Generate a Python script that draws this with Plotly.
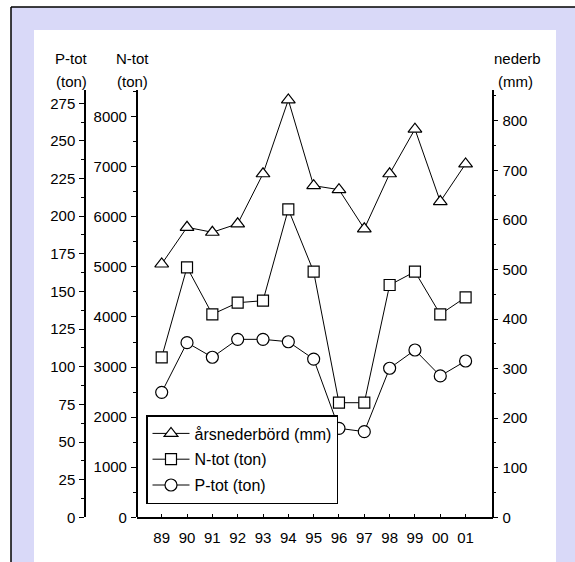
import plotly.graph_objects as go

# ---------------- data ----------------
years = ["89", "90", "91", "92", "93", "94", "95", "96", "97", "98", "99", "00", "01"]
nederb = [511, 585, 575, 592, 693, 842, 669, 661, 582, 693, 783, 637, 713]          # mm
n_tot = [3195, 4992, 4053, 4285, 4325, 6150, 4904, 2288, 2288, 4638, 4904, 4053, 4393]  # ton
p_tot = [83.0, 116.0, 106.3, 118.2, 118.2, 116.6, 105.1, 59.1, 56.9, 99.0, 111.1, 93.9, 103.8]  # ton

series_names = ["årsnederbörd (mm)", "N-tot (ton)", "P-tot (ton)"]

# ---------------- layout helpers ----------------
W, H = 575, 562
def px(x):
    return x / W
def py(y):
    return 1 - y / H

FONT = "Liberation Sans, Arial, sans-serif"
LAV = "#d9d9f8"

x_idx = list(range(len(years)))

fig = go.Figure()

common_line = dict(color="black", width=1)
fig.add_trace(go.Scatter(
    x=x_idx, y=nederb, name=series_names[0], yaxis="y3", mode="lines+markers",
    line=common_line, legendgroup="a",
    marker=dict(symbol="triangle-up", size=12, color="white", line=dict(color="black", width=1.2)),
))
fig.add_trace(go.Scatter(
    x=x_idx, y=n_tot, name=series_names[1], yaxis="y", mode="lines+markers",
    line=common_line, legendgroup="b",
    marker=dict(symbol="square", size=11, color="white", line=dict(color="black", width=1.2)),
))
fig.add_trace(go.Scatter(
    x=x_idx, y=p_tot, name=series_names[2], yaxis="y2", mode="lines+markers",
    line=common_line, legendgroup="c",
    marker=dict(symbol="circle", size=12, color="white", line=dict(color="black", width=1.2)),
))

y_bot, y_top = 517.3, 90
ydom = [py(y_bot), py(y_top)]
tickfont = dict(family=FONT, size=15, color="black")

axis_common = dict(
    showgrid=False, zeroline=False, showline=True, linecolor="black", linewidth=1.5,
    ticks="outside", ticklen=5, tickcolor="black", tickwidth=1, tickfont=tickfont,
    domain=ydom, anchor="free", fixedrange=True, ticklabelstandoff=1, automargin=False,
)

fig.update_layout(
    width=W, height=H, autosize=False,
    margin=dict(l=0, r=0, t=0, b=0, pad=0, autoexpand=False),
    paper_bgcolor="white", plot_bgcolor="rgba(0,0,0,0)",
    font=dict(family=FONT, color="black"),
    xaxis=dict(
        domain=[px(136.7), px(492.7)], range=[-0.987, 13.07],
        tickmode="array", tickvals=x_idx, ticktext=years,
        showgrid=False, zeroline=False, showline=True, linecolor="black", linewidth=1.5,
        ticks="inside", ticklen=4, tickcolor="black", tickfont=tickfont, anchor="y",
        fixedrange=True, ticklabelstandoff=6, automargin=False,
    ),
    yaxis=dict(
        **axis_common, position=px(136.7), side="left", range=[0, 8532],
        tick0=0, dtick=1000,
        minor=dict(ticks="outside", ticklen=3, dtick=500, tickcolor="black", showgrid=False),
    ),
    yaxis2=dict(
        **axis_common, position=px(85), side="left", overlaying="y", range=[0, 283.8],
        tick0=0, dtick=25,
        minor=dict(ticks="outside", ticklen=3, dtick=12.5, tickcolor="black", showgrid=False),
    ),
    yaxis3=dict(
        **axis_common, position=px(492.7), side="right", overlaying="y", range=[0, 862],
        tick0=0, dtick=100,
        minor=dict(ticks="outside", ticklen=3, dtick=50, tickcolor="black", showgrid=False),
    ),
    legend=dict(
        x=px(146), y=py(415), xanchor="left", yanchor="top",
        bgcolor="white", bordercolor="black", borderwidth=1.5,
        font=dict(family=FONT, size=16, color="black"),
        tracegroupgap=2, itemwidth=37,
    ),
    shapes=[
        dict(type="rect", xref="paper", yref="paper", x0=px(11), x1=1.0, y0=0, y1=py(7),
             fillcolor=LAV, line=dict(width=0), layer="below"),
        dict(type="rect", xref="paper", yref="paper", x0=px(34), x1=px(556), y0=0, y1=py(30),
             fillcolor="white", line=dict(width=0), layer="below"),
        dict(type="line", xref="paper", yref="paper", x0=px(11), x1=px(11), y0=0, y1=py(7),
             line=dict(color="black", width=1.5), layer="below"),
        dict(type="line", xref="paper", yref="paper", x0=px(11), x1=1.0, y0=py(7), y1=py(7),
             line=dict(color="black", width=1.5), layer="below"),
    ],
)

ann_font = dict(family=FONT, size=15, color="black")
for txt, x, y in [("P-tot", 71, 58), ("(ton)", 71, 81), ("N-tot", 132, 58), ("(ton)", 132, 81),
                  ("nederb", 517, 58), ("(mm)", 515, 81)]:
    fig.add_annotation(text=txt, x=px(x), y=py(y), xref="paper", yref="paper",
                       showarrow=False, xanchor="center", yanchor="middle", font=ann_font)

fig.write_html("out.html", config={"displayModeBar": False, "responsive": False},
               post_script="document.body.style.margin='0';")
